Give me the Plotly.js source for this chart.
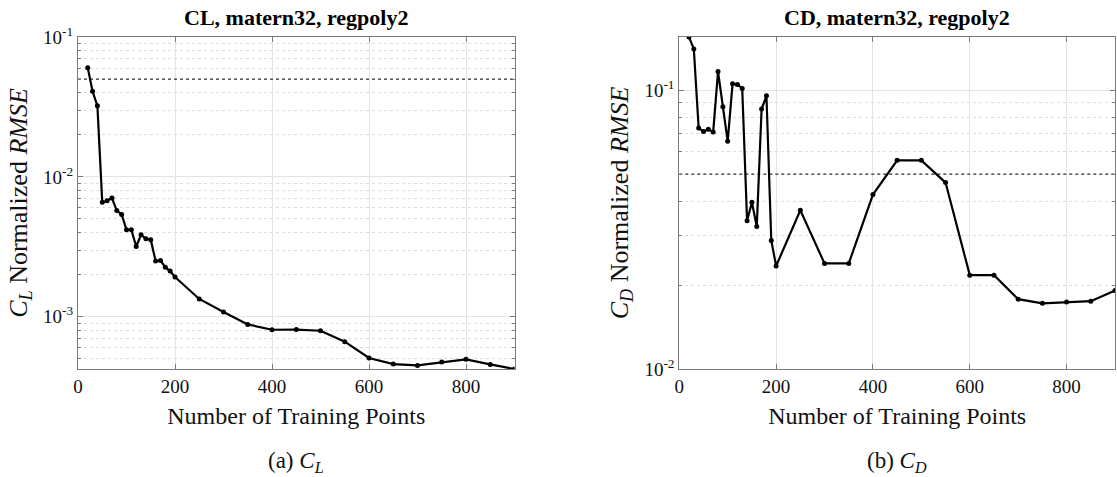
<!DOCTYPE html>
<html>
<head>
<meta charset="utf-8">
<script src="https://cdn.plot.ly/plotly-3.0.1.min.js"></script>
<style>html,body{margin:0;padding:0;background:#fff;}#chart{width:1117px;height:477px;}</style>
</head>
<body>
<div id="chart"></div>
<script>
// ---- data ----
const TRAINING_POINTS_CL = [20,30,40,50,60,70,80,90,100,110,120,130,140,150,160,170,180,190,200,250,300,350,400,450,500,550,600,650,700,750,800,850,900];
const RMSE_CL = [0.0604,0.0409,0.0322,0.00659,0.00674,0.00705,0.00574,0.00538,0.00418,0.00418,0.00318,0.00385,0.00361,0.00355,0.0025,0.00252,0.00226,0.00212,0.00192,0.00134,0.00108,0.000881,0.000807,0.00081,0.000794,0.000663,0.000507,0.000459,0.000449,0.000474,0.000496,0.000456,0.000423];
const TRAINING_POINTS_CD = [20,30,40,50,60,70,80,90,100,110,120,130,140,150,160,170,180,190,200,250,300,350,400,450,500,550,600,650,700,750,800,850,900];
const RMSE_CD = [0.155,0.1405,0.0731,0.0711,0.0723,0.0708,0.1165,0.0872,0.0655,0.1053,0.1047,0.1013,0.034,0.0396,0.0324,0.0855,0.0954,0.0289,0.0234,0.0371,0.0239,0.0239,0.0422,0.056,0.056,0.0466,0.0217,0.0217,0.0178,0.0172,0.0174,0.0175,0.0191];
const THRESHOLD = 0.05;
const X_LIMITS = [0, 900];
const X_TICKS = [0, 200, 400, 600, 800];
const Y_TICKS_CL = [0.001, 0.01, 0.1];
const Y_TICKTEXT_CL = ['10<sup>-3</sup>', '10<sup>-2</sup>', '10<sup>-1</sup>'];
const Y_TICKS_CD = [0.01, 0.1];
const Y_TICKTEXT_CD = ['10<sup>-2</sup>', '10<sup>-1</sup>'];
const TITLE_CL = '<b>CL, matern32, regpoly2</b>';
const TITLE_CD = '<b>CD, matern32, regpoly2</b>';
const YLABEL_CL = '<i>C<sub>L</sub></i> Normalized <i>RMSE</i>';
const YLABEL_CD = '<i>C<sub>D</sub></i> Normalized <i>RMSE</i>';
const XLABEL = 'Number of Training Points';
const CAPTION_CL = '(a) <i>C<sub>L</sub></i>';
const CAPTION_CD = '(b) <i>C<sub>D</sub></i>';

// ---- styling ----
const W = 1117, H = 477;
const FONT = 'Liberation Serif';
const AXIS_COLOR = '#7a7a7a';
const px = (v) => v / W;
const py = (v) => 1 - v / H;

function minorVals(decades) {
  const out = [];
  decades.forEach(d => { for (let m = 2; m <= 9; m++) out.push(m * Math.pow(10, d)); });
  return out;
}

function xAxis(domain, anchor) {
  return {
    domain: domain, anchor: anchor,
    range: X_LIMITS, tickmode: 'array', tickvals: X_TICKS,
    ticks: 'inside', ticklen: 5, tickcolor: AXIS_COLOR, tickwidth: 1,
    showline: true, linecolor: AXIS_COLOR, linewidth: 1, mirror: 'allticks',
    showgrid: true, gridcolor: '#e3e3e3', gridwidth: 1, zeroline: false,
    tickfont: {family: FONT, size: 19, color: '#111'},
    title: {text: XLABEL, font: {family: FONT, size: 24, color: '#111'}, standoff: 11},
    automargin: false
  };
}

function yAxis(domain, anchor, ticks, text, label, range, decades) {
  return {
    domain: domain, anchor: anchor,
    type: 'log', range: range, tickmode: 'array', tickvals: ticks, ticktext: text,
    ticks: 'inside', ticklen: 5, tickcolor: AXIS_COLOR, tickwidth: 1,
    showline: true, linecolor: AXIS_COLOR, linewidth: 1, mirror: 'allticks',
    showgrid: true, gridcolor: '#e3e3e3', gridwidth: 1, zeroline: false,
    minor: {tickmode: 'array', tickvals: minorVals(decades), ticks: 'inside', ticklen: 3,
            tickcolor: AXIS_COLOR, showgrid: true, gridcolor: '#dcdcdc', griddash: 'dot', gridwidth: 1},
    tickfont: {family: FONT, size: 19, color: '#111'},
    title: {text: label, font: {family: FONT, size: 26, color: '#111'}, standoff: 8},
    automargin: false
  };
}

const yRangeCL = [Math.log10(Math.min(...RMSE_CL)), -1 + 1e-5];
const yRangeCD = [-2 - 1e-5, Math.log10(Math.max(...RMSE_CD))];

const lineStyle = {color: '#000', width: 2.2};
const markerStyle = {color: '#000', size: 5};
const thresholdStyle = {color: '#333', width: 1.3, dash: 'dot'};

const traces = [
  {x: X_LIMITS, y: [THRESHOLD, THRESHOLD], xaxis: 'x', yaxis: 'y', mode: 'lines',
   line: thresholdStyle, hoverinfo: 'skip', showlegend: false},
  {x: TRAINING_POINTS_CL, y: RMSE_CL, xaxis: 'x', yaxis: 'y', mode: 'lines+markers',
   line: lineStyle, marker: markerStyle, showlegend: false},
  {x: X_LIMITS, y: [THRESHOLD, THRESHOLD], xaxis: 'x2', yaxis: 'y2', mode: 'lines',
   line: thresholdStyle, hoverinfo: 'skip', showlegend: false},
  {x: TRAINING_POINTS_CD, y: RMSE_CD, xaxis: 'x2', yaxis: 'y2', mode: 'lines+markers',
   line: lineStyle, marker: markerStyle, showlegend: false}
];

const dL = [px(78), px(514.5)];
const dR = [px(679.3), px(1115)];
const dY = [py(369), py(37)];

const layout = {
  width: W, height: H,
  margin: {l: 0, r: 0, t: 0, b: 0},
  paper_bgcolor: '#fff', plot_bgcolor: '#fff',
  showlegend: false,
  font: {family: FONT, color: '#111'},
  xaxis: xAxis(dL, 'y'),
  yaxis: yAxis(dY, 'x', Y_TICKS_CL, Y_TICKTEXT_CL, YLABEL_CL, yRangeCL, [-4, -3, -2]),
  xaxis2: xAxis(dR, 'y2'),
  yaxis2: yAxis(dY, 'x2', Y_TICKS_CD, Y_TICKTEXT_CD, YLABEL_CD, yRangeCD, [-2, -1]),
  annotations: [
    {text: TITLE_CL, xref: 'paper', yref: 'paper', x: (dL[0] + dL[1]) / 2, y: py(18), xanchor: 'center', yanchor: 'middle',
     showarrow: false, font: {family: FONT, size: 22, color: '#000'}},
    {text: TITLE_CD, xref: 'paper', yref: 'paper', x: (dR[0] + dR[1]) / 2, y: py(18), xanchor: 'center', yanchor: 'middle',
     showarrow: false, font: {family: FONT, size: 22, color: '#000'}},
    {text: CAPTION_CL, xref: 'paper', yref: 'paper', x: (dL[0] + dL[1]) / 2, y: py(462), xanchor: 'center', yanchor: 'middle',
     showarrow: false, font: {family: FONT, size: 23, color: '#111'}},
    {text: CAPTION_CD, xref: 'paper', yref: 'paper', x: (dR[0] + dR[1]) / 2, y: py(462), xanchor: 'center', yanchor: 'middle',
     showarrow: false, font: {family: FONT, size: 23, color: '#111'}}
  ]
};

Plotly.newPlot('chart', traces, layout, {staticPlot: true, displayModeBar: false});
</script>
</body>
</html>
